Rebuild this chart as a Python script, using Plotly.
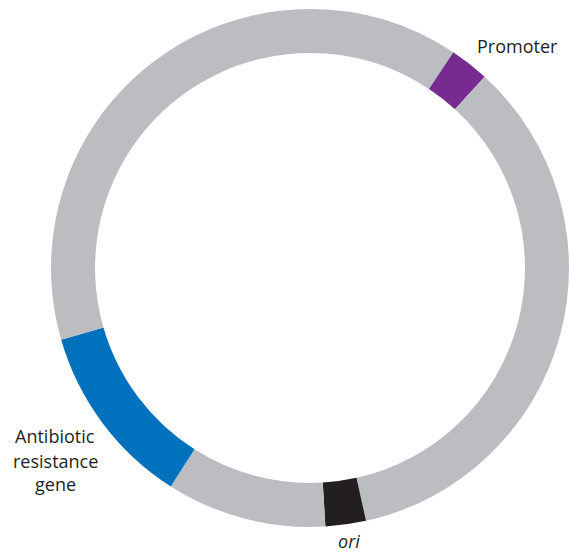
import plotly.graph_objects as go

# Plasmid map segments, clockwise from 12 o'clock (degrees of arc)
segments = ["backbone_a", "Promoter", "backbone_b", "ori", "backbone_c",
            "Antibiotic resistance gene", "backbone_d"]
arc_degrees = [33.6, 8.8, 125.1, 9.1, 35.9, 41.4, 106.1]
seg_colors = ["#BCBDC0", "#772B90", "#BCBDC0", "#231F20", "#BCBDC0",
              "#0071BC", "#BCBDC0"]

# Callout label lines
label_texts = ["Promoter", "Antibiotic", "resistance", "gene", "<i>ori</i>"]

# Layout (pixel positions in the 569x554 page)
label_px = [(517, 46), (55, 436), (55, 461), (55, 484), (349, 554)]
label_anchor = ["middle", "middle", "middle", "middle", "bottom"]

W, H = 569, 554
cx, cy, R = 310, 268, 259

fig = go.Figure(go.Pie(
    labels=segments,
    values=arc_degrees,
    marker=dict(colors=seg_colors, line=dict(width=0)),
    hole=0.83,
    sort=False,
    direction="clockwise",
    rotation=0,
    textinfo="none",
    hoverinfo="label",
    showlegend=False,
    domain=dict(x=[(cx - R) / W, min(1, (cx + R) / W)],
                y=[(H - cy - R) / H, (H - cy + R) / H]),
))

for txt, (px, py), ya in zip(label_texts, label_px, label_anchor):
    fig.add_annotation(
        x=px / W, y=1 - py / H, xref="paper", yref="paper",
        text=txt, showarrow=False, align="center",
        xanchor="center", yanchor=ya, borderpad=0,
        font=dict(family="Open Sans", size=18, color="#231F20"),
    )

fig.update_layout(
    width=W, height=H,
    margin=dict(l=0, r=0, t=0, b=0),
    paper_bgcolor="white", plot_bgcolor="white",
)

fig.write_html(
    "out.html",
    config={"displayModeBar": False},
    post_script="document.body.style.margin='0';"
                "document.body.style.overflow='hidden';",
)
